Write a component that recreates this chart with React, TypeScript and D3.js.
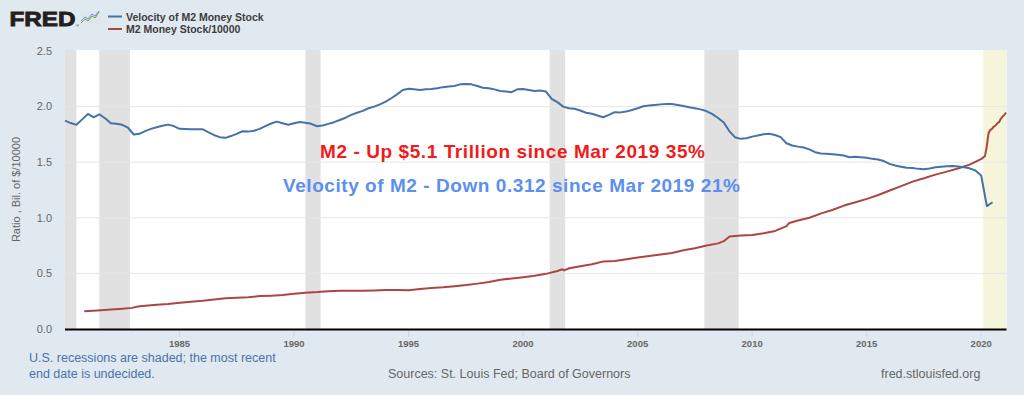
import * as d3 from 'd3';

// Velocity of M2 (quarterly, starting 1980Q1)
const velocityStartYear = 1980;
const velocity = [
  1.874, 1.852, 1.836, 1.885,
  1.934, 1.904, 1.931, 1.895,
  1.850, 1.845, 1.836, 1.810,
  1.749, 1.755, 1.780, 1.800,
  1.815, 1.828, 1.838, 1.825,
  1.800, 1.798, 1.797, 1.797,
  1.797, 1.770, 1.745, 1.725,
  1.719, 1.735, 1.755, 1.778,
  1.775, 1.782, 1.800, 1.825,
  1.848, 1.865, 1.850, 1.836,
  1.850, 1.862, 1.855, 1.845,
  1.823, 1.830, 1.845, 1.860,
  1.880, 1.900, 1.925, 1.945,
  1.962, 1.985, 2.000, 2.020,
  2.045, 2.075, 2.110, 2.150,
  2.160, 2.155, 2.150, 2.155,
  2.158, 2.165, 2.175, 2.180,
  2.185, 2.200, 2.204, 2.200,
  2.185, 2.170, 2.165, 2.155,
  2.140, 2.135, 2.130, 2.155,
  2.159, 2.150, 2.140, 2.145,
  2.135, 2.070, 2.040, 2.000,
  1.985, 1.980, 1.965, 1.945,
  1.935, 1.920, 1.904, 1.925,
  1.950, 1.948, 1.955, 1.970,
  1.985, 2.003, 2.010, 2.015,
  2.020, 2.024, 2.024, 2.015,
  2.005, 1.995, 1.985, 1.975,
  1.960, 1.934, 1.900, 1.860,
  1.780, 1.725, 1.710, 1.715,
  1.730, 1.740, 1.752, 1.755,
  1.745, 1.725, 1.670, 1.650,
  1.640, 1.632, 1.615, 1.590,
  1.578, 1.575, 1.572, 1.568,
  1.560, 1.545, 1.548, 1.545,
  1.540, 1.530, 1.524, 1.510,
  1.485, 1.470, 1.460, 1.450,
  1.447, 1.440, 1.437, 1.443,
  1.455, 1.460, 1.464, 1.465,
  1.462, 1.455, 1.445, 1.425,
  1.380, 1.105, 1.140,
];

// M2 money stock / 10000
const m2Dates = [
  '1980-11-03', '1981-06-01', '1982-01-04', '1982-07-05', '1982-12-06', '1983-03-07', '1983-07-04',
  '1984-01-02', '1984-07-02', '1985-01-07', '1985-07-01', '1986-01-06', '1986-07-07', '1987-01-05',
  '1987-07-06', '1988-01-04', '1988-07-04', '1989-01-02', '1989-07-03', '1990-01-01', '1990-07-02',
  '1991-01-07', '1991-07-01', '1992-01-06', '1992-07-06', '1993-01-04', '1993-07-05', '1994-01-03',
  '1994-07-04', '1995-01-02', '1995-07-03', '1996-01-01', '1996-07-01', '1997-01-06', '1997-07-07',
  '1998-01-05', '1998-07-06', '1999-01-04', '1999-07-05', '2000-01-03', '2000-07-03', '2001-01-01',
  '2001-07-02', '2001-09-17', '2001-10-15', '2002-01-07', '2002-07-01', '2003-01-06', '2003-07-07',
  '2004-01-05', '2004-07-05', '2005-01-03', '2005-07-04', '2006-01-02', '2006-07-03', '2007-01-01',
  '2007-07-02', '2008-01-07', '2008-07-07', '2008-10-06', '2009-01-05', '2009-07-06', '2010-01-04',
  '2010-07-05', '2011-01-03', '2011-07-04', '2011-08-15', '2012-01-02', '2012-07-02', '2013-01-07',
  '2013-07-01', '2014-01-06', '2014-07-07', '2015-01-05', '2015-07-06', '2016-01-04', '2016-07-04',
  '2017-01-02', '2017-07-03', '2018-01-01', '2018-07-02', '2019-01-07', '2019-07-01', '2020-01-06',
  '2020-03-02', '2020-03-30', '2020-04-27', '2020-05-25', '2020-06-22', '2020-07-20', '2020-08-17',
  '2020-09-14', '2020-10-12', '2020-11-09', '2020-12-07', '2021-01-04', '2021-02-01',
];
const m2Values = [
  0.159, 0.167, 0.176, 0.183, 0.190, 0.203, 0.210,
  0.217, 0.225, 0.236, 0.246, 0.253, 0.266, 0.276,
  0.280, 0.286, 0.296, 0.300, 0.306, 0.318, 0.326,
  0.332, 0.340, 0.344, 0.343, 0.344, 0.347, 0.350,
  0.350, 0.349, 0.360, 0.368, 0.375, 0.385, 0.395,
  0.408, 0.422, 0.442, 0.455, 0.466, 0.478, 0.496,
  0.522, 0.537, 0.527, 0.546, 0.565, 0.582, 0.608,
  0.612, 0.628, 0.644, 0.657, 0.670, 0.683, 0.708,
  0.727, 0.750, 0.770, 0.790, 0.832, 0.840, 0.846,
  0.861, 0.882, 0.925, 0.954, 0.976, 1.000, 1.040,
  1.070, 1.110, 1.140, 1.170, 1.205, 1.245, 1.285,
  1.325, 1.355, 1.388, 1.415, 1.445, 1.478, 1.530,
  1.555, 1.640, 1.760, 1.790, 1.800, 1.820, 1.830,
  1.850, 1.860, 1.890, 1.910, 1.925, 1.945,
];

const recessions = [
  ['1980-01-01', '1980-07-01'],
  ['1981-07-01', '1982-11-01'],
  ['1990-07-01', '1991-03-01'],
  ['2001-03-01', '2001-11-01'],
  ['2007-12-01', '2009-06-01'],
];
const openRecessionStart = '2020-02-01';

const yTicks = [0, 0.5, 1.0, 1.5, 2.0, 2.5];
const xTickYears = [1985, 1990, 1995, 2000, 2005, 2010, 2015, 2020];

const W = 1024;
const H = 395;
const FONT = '"Liberation Sans", Arial, sans-serif';

export default function App() {
  const parse = d3.utcParse('%Y-%m-%d');
  const x = d3.scaleUtc()
    .domain([Date.UTC(1980, 0, 1), Date.UTC(2021, 1, 8)])
    .range([65, 1006.5]);
  const y = d3.scaleLinear().domain([0, 2.5]).range([329, 51]);

  const velData = velocity.map((v, i) => ({
    date: new Date(Date.UTC(velocityStartYear + Math.floor(i / 4), (i % 4) * 3, 1)),
    value: v,
  }));
  const m2Data = m2Dates.map((d, i) => ({ date: parse(d) as Date, value: m2Values[i] }));

  const line = d3.line<{ date: Date; value: number }>()
    .x(d => x(d.date))
    .y(d => y(d.value));

  const [x0, x1] = x.range();
  const plotTop = 50;
  const plotBottom = y(0);

  return (
    <div style={{ position: 'absolute', left: 0, top: 0 }}>
      <svg width={W} height={H} style={{ display: 'block', fontFamily: FONT }}>
        <rect width={W} height={H} fill="#e1e9f0" />

        {/* FRED logo */}
        <text x={9.5} y={25.5} fontSize={21} fontWeight={900} fill="#231f20" stroke="#231f20" strokeWidth={0.9}
          textLength={66} lengthAdjust="spacingAndGlyphs">FRED</text>
        <text x={76} y={27} fontSize={4} fill="#231f20">®</text>
        <rect x={80} y={11} width={20} height={14} fill="#dfe6ee" />
        <polyline points="81,23 85,19 88,21 92,16 95,18 99,12" fill="none" stroke="#6fa04a" strokeWidth={1} />
        <polyline points="81,21 85,17 88,19 92,14 95,16 99,11" fill="none" stroke="#6f93c8" strokeWidth={1} />

        {/* legend */}
        <line x1={108} x2={122} y1={16.5} y2={16.5} stroke="#4572a7" strokeWidth={2} />
        <text x={126} y={20.5} fontSize={10.5} fontWeight="bold" fill="#3c3c3c">Velocity of M2 Money Stock</text>
        <line x1={108} x2={122} y1={29} y2={29} stroke="#aa4643" strokeWidth={2} />
        <text x={126} y={33} fontSize={10.5} fontWeight="bold" fill="#3c3c3c">M2 Money Stock/10000</text>

        {/* plot area */}
        <rect x={x0} y={plotTop} width={x1 - x0} height={plotBottom - plotTop} fill="#ffffff" />
        {recessions.map(([s, e]) => (
          <rect key={s} x={x(parse(s) as Date)} y={plotTop}
            width={x(parse(e) as Date) - x(parse(s) as Date)} height={plotBottom - plotTop} fill="#e1e1e1" />
        ))}
        <rect x={x(parse(openRecessionStart) as Date)} y={plotTop}
          width={x1 - x(parse(openRecessionStart) as Date)} height={plotBottom - plotTop} fill="#f5f5dc" />

        {yTicks.filter(t => t > 0 && t < 2.5).map(t => (
          <line key={t} x1={x0} x2={x1} y1={y(t)} y2={y(t)} stroke="#e6e6e6" strokeWidth={1} />
        ))}
        {yTicks.map(t => (
          <text key={t} x={52} y={y(t)} dy="0.35em" textAnchor="end" fontSize={11} fill="#666">{t.toFixed(1)}</text>
        ))}
        <text transform={`translate(20,${(plotTop + plotBottom) / 2}) rotate(-90)`} textAnchor="middle"
          fontSize={11} fill="#666">Ratio , Bil. of $/10000</text>

        {xTickYears.map(yr => {
          const px = x(new Date(Date.UTC(yr, 0, 1)));
          return (
            <g key={yr}>
              <line x1={px} x2={px} y1={plotBottom} y2={plotBottom + 8} stroke="#ccd6eb" strokeWidth={1} />
              <text x={px} y={347} textAnchor="middle" fontSize={9.5} fontWeight="bold" fill="#666">{yr}</text>
            </g>
          );
        })}

        {/* series */}
        <path d={line(m2Data) ?? ''} fill="none" stroke="#aa4643" strokeWidth={2} strokeLinejoin="round" />
        <path d={line(velData) ?? ''} fill="none" stroke="#4572a7" strokeWidth={2} strokeLinejoin="round" />

        <line x1={x0} x2={x1} y1={plotBottom + 0.5} y2={plotBottom + 0.5} stroke="#000" strokeWidth={2} />

        {/* annotations */}
        <text x={320} y={158} fontSize={19} fontWeight="bold" fill="#f21a1a"
          textLength={385} lengthAdjust="spacing">M2 - Up $5.1 Trillion since Mar 2019 35%</text>
        <text x={283} y={192} fontSize={19} fontWeight="bold" fill="#5b8ff0"
          textLength={457} lengthAdjust="spacing">Velocity of M2 - Down 0.312 since Mar 2019 21%</text>

        {/* footer */}
        <text x={29} y={362} fontSize={12.5} fill="#4a72aa">U.S. recessions are shaded; the most recent</text>
        <text x={29} y={378} fontSize={12.5} fill="#4a72aa">end date is undecided.</text>
        <text x={388} y={378} fontSize={12.5} fill="#666">Sources: St. Louis Fed; Board of Governors</text>
        <text x={881} y={378} fontSize={12.5} fill="#666">fred.stlouisfed.org</text>
      </svg>
    </div>
  );
}
